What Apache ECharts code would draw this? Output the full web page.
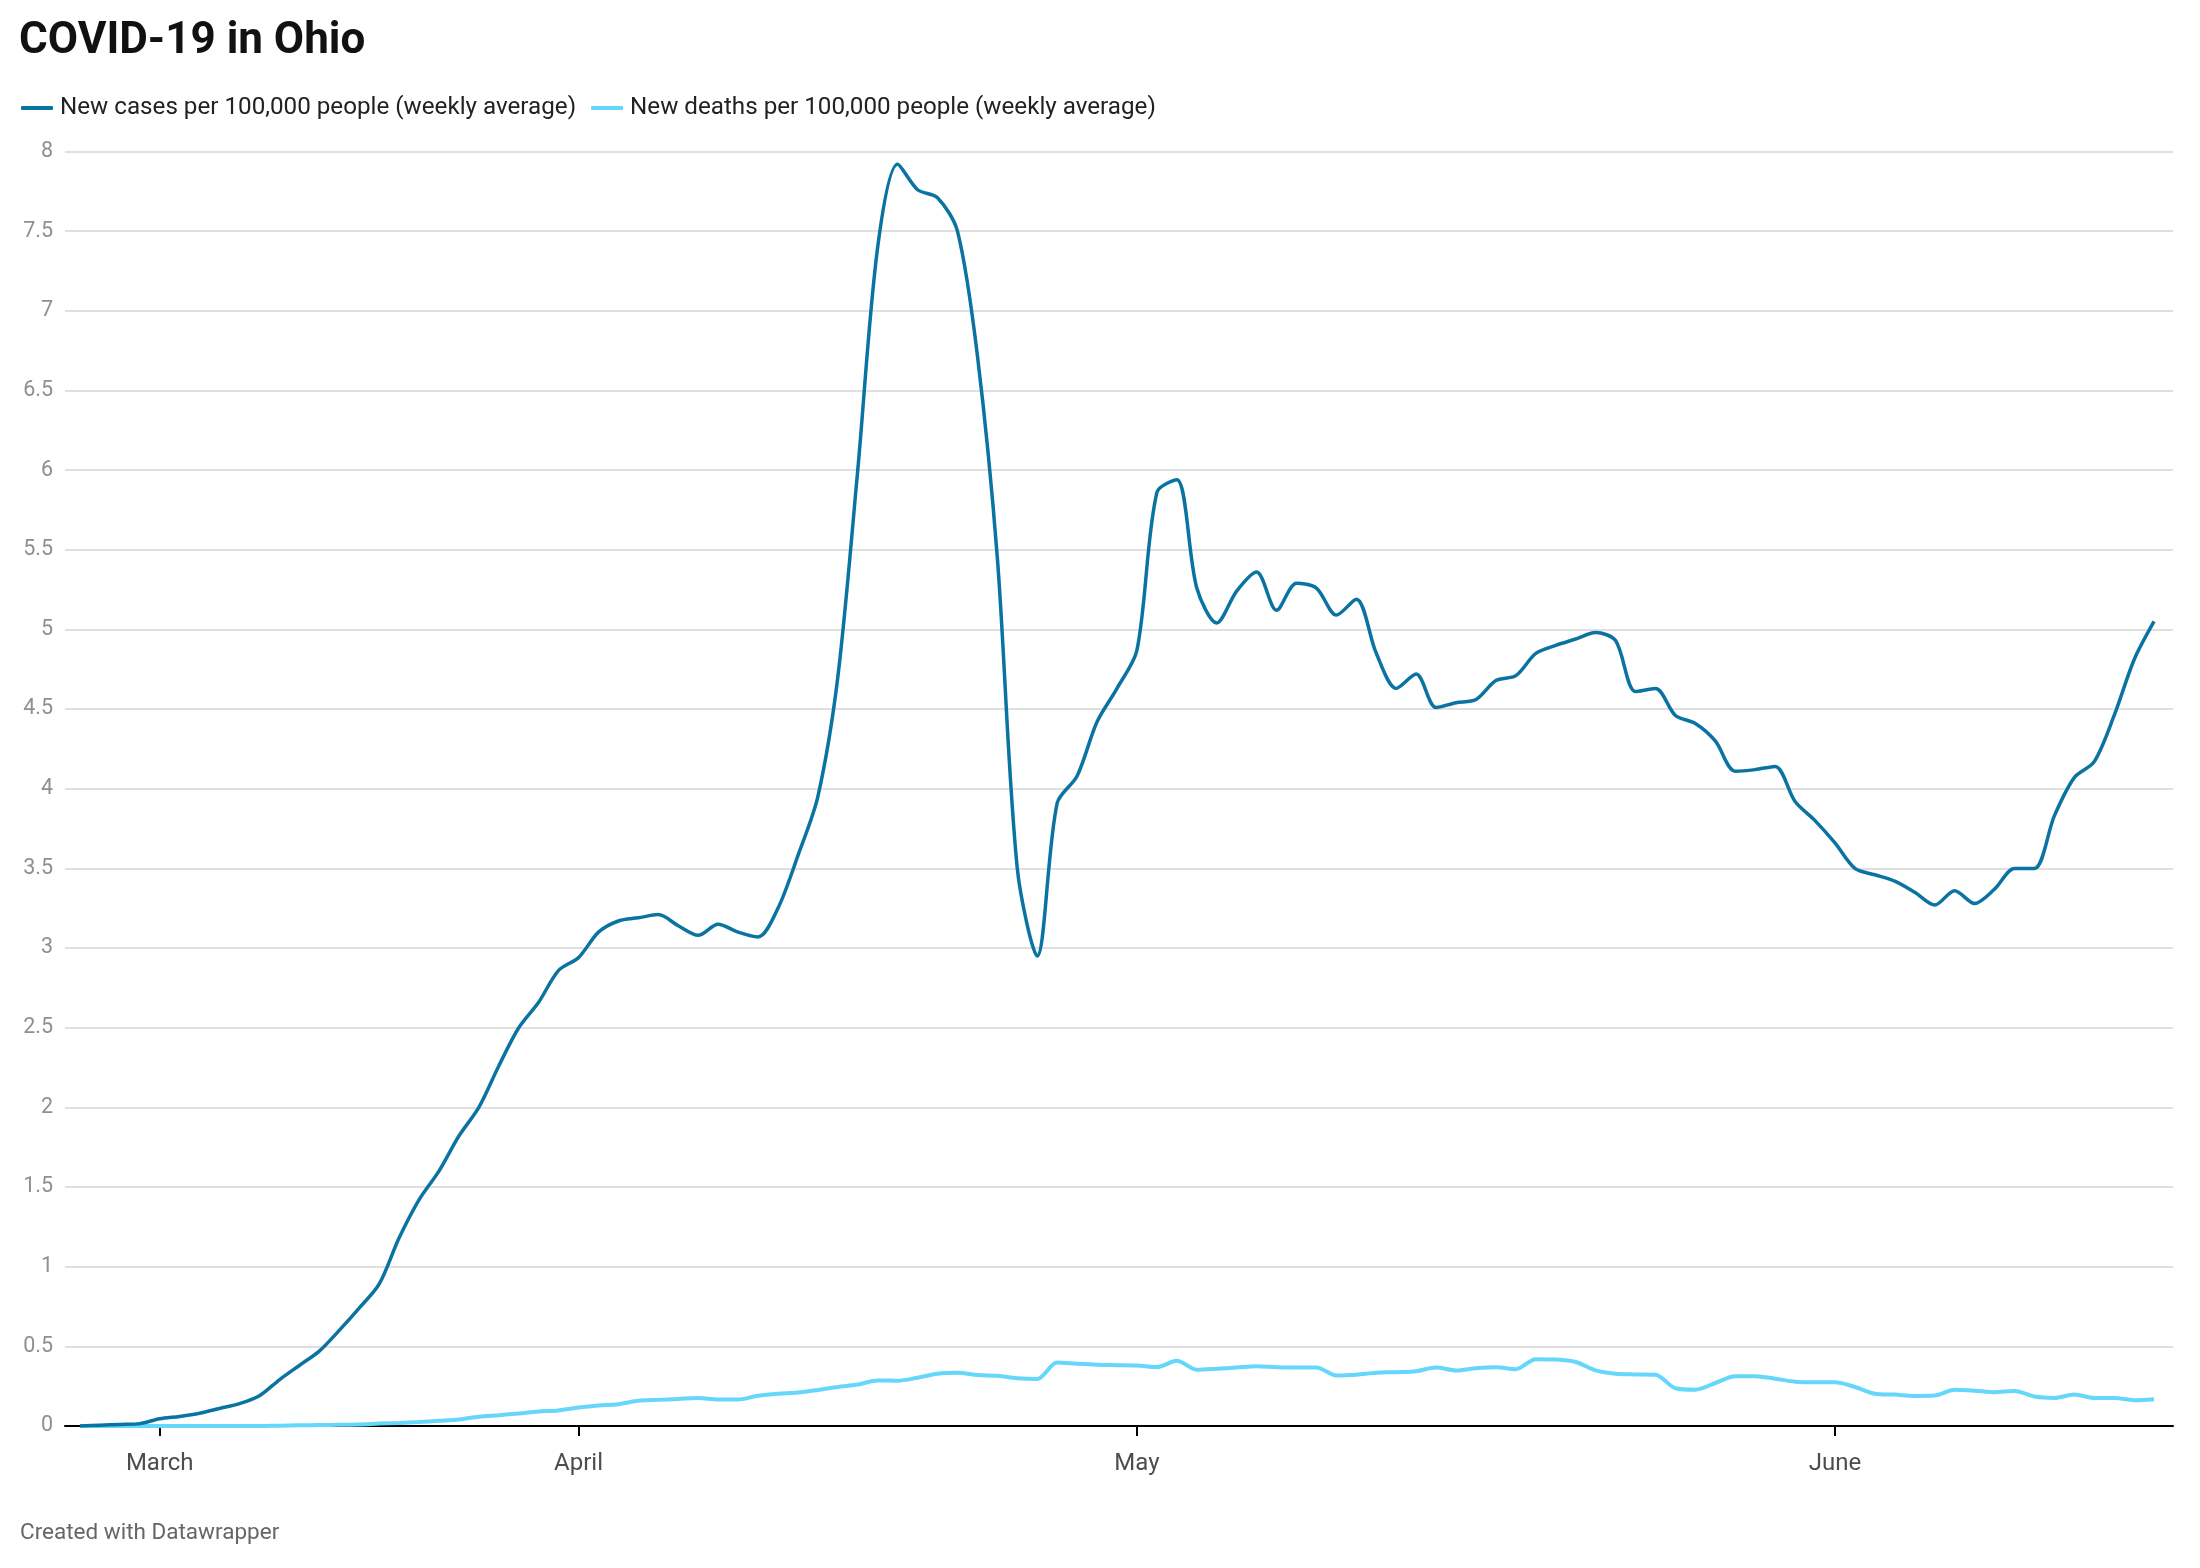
<!DOCTYPE html>
<html>
<head>
<meta charset="utf-8">
<title>COVID-19 in Ohio</title>
<script src="https://cdn.jsdelivr.net/npm/echarts@6/dist/echarts.min.js"></script>
<style>
  html, body { margin: 0; padding: 0; background: #fff; }
  #chart { width: 2200px; height: 1568px; }
</style>
</head>
<body>
<div id="chart"></div>
<script>
// day index 0..104, one point per day
const cases = [
  0.0, 0.005, 0.01, 0.015, 0.045, 0.06, 0.08, 0.11, 0.14, 0.19,
  0.29, 0.38, 0.47, 0.6, 0.74, 0.89, 1.18, 1.42, 1.6, 1.82,
  2.0, 2.26, 2.5, 2.66, 2.86, 2.94, 3.1, 3.17, 3.19, 3.21,
  3.14, 3.08, 3.15, 3.1, 3.07, 3.25, 3.58, 3.95, 4.7, 6.0,
  7.4, 7.92, 7.76, 7.71, 7.5, 6.72, 5.45, 3.5, 2.95, 3.91,
  4.08, 4.42, 4.63, 4.87, 5.86, 5.94, 5.26, 5.04, 5.24, 5.36,
  5.12, 5.29, 5.26, 5.09, 5.19, 4.85, 4.63, 4.72, 4.51, 4.54,
  4.56, 4.68, 4.71, 4.85, 4.9, 4.94, 4.98, 4.93, 4.61, 4.63,
  4.46, 4.41, 4.3, 4.11, 4.12, 4.14, 3.92, 3.8, 3.66, 3.5,
  3.46, 3.42, 3.35, 3.27, 3.36, 3.28, 3.37, 3.5, 3.5, 3.83,
  4.07, 4.17, 4.46, 4.81, 5.05
];
const deaths = [
  0, 0, 0, 0, 0, 0, 0, 0, 0, 0,
  0.002, 0.004, 0.006, 0.008, 0.01, 0.015, 0.019, 0.025, 0.033, 0.041,
  0.058, 0.068, 0.079, 0.091, 0.098, 0.116, 0.129, 0.137, 0.158, 0.164,
  0.17, 0.176, 0.166, 0.166, 0.19, 0.203, 0.21, 0.226, 0.245, 0.26,
  0.286, 0.284, 0.303, 0.328, 0.334, 0.32, 0.315, 0.3, 0.295, 0.398,
  0.39, 0.384, 0.382, 0.38, 0.37, 0.41, 0.353, 0.359, 0.367, 0.375,
  0.369, 0.367, 0.367, 0.317, 0.322, 0.334, 0.338, 0.344, 0.367, 0.349,
  0.363, 0.369, 0.357, 0.419, 0.417, 0.402, 0.349, 0.328, 0.324, 0.322,
  0.237, 0.228, 0.27, 0.313, 0.313, 0.297, 0.278, 0.274, 0.274, 0.245,
  0.203, 0.197, 0.189, 0.191, 0.228, 0.222, 0.212, 0.22, 0.185, 0.176,
  0.197, 0.176, 0.176, 0.162, 0.168
];
const monthTicks = [4, 25, 53, 88];
const monthLabels = ['March', 'April', 'May', 'June'];
const seriesNames = [
  'New cases per 100,000 people (weekly average)',
  'New deaths per 100,000 people (weekly average)'
];

const chart = echarts.init(document.getElementById('chart'));

const toPoints = (arr) => arr.map((v, i) => [i, v]);

const option = {
  animation: false,
  textStyle: { fontFamily: 'Roboto' },
  title: [
    {
      text: 'COVID-19 in Ohio',
      left: 14,
      top: 15,
      textStyle: { fontSize: 44, fontWeight: 'bold', color: '#111', fontFamily: 'Roboto' }
    },
    {
      text: 'Created with Datawrapper',
      left: 15,
      top: 1517,
      textStyle: { fontSize: 22.5, fontWeight: 'normal', color: '#666', fontFamily: 'Roboto' }
    }
  ],
  legend: {
    data: seriesNames,
    left: 16,
    top: 91,
    icon: 'roundRect',
    itemWidth: 32,
    itemHeight: 4,
    itemGap: 15,
    textStyle: { fontSize: 24.2, color: '#222', padding: [0, 0, 0, 2] }
  },
  grid: {
    left: 65,
    right: 27,
    top: 151.5,
    bottom: 142,
    containLabel: false
  },
  xAxis: {
    type: 'value',
    min: -0.75,
    max: 104.95,
    splitLine: { show: false },
    axisLine: { show: true, lineStyle: { color: '#000', width: 2 } },
    axisTick: {
      show: true,
      customValues: monthTicks,
      length: 10,
      lineStyle: { color: '#000', width: 2 }
    },
    axisLabel: {
      customValues: monthTicks,
      formatter: (v) => monthLabels[monthTicks.indexOf(Math.round(v))] || '',
      fontSize: 24,
      color: '#4d4d4d',
      margin: 26
    }
  },
  yAxis: {
    type: 'value',
    min: 0,
    max: 8,
    interval: 0.5,
    axisLine: { show: false },
    axisTick: { show: false },
    axisLabel: { fontSize: 21.5, color: '#8f8f8f', margin: 12 },
    splitLine: { lineStyle: { color: '#e0e0e0', width: 2 } }
  },
  series: [
    {
      name: seriesNames[1],
      type: 'line',
      data: toPoints(deaths),
      smooth: 0.3,
      showSymbol: false,
      z: 2,
      itemStyle: { color: '#64d7fa' },
      lineStyle: { color: '#64d7fa', width: 4 }
    },
    {
      name: seriesNames[0],
      type: 'line',
      data: toPoints(cases),
      smooth: 0.3,
      showSymbol: false,
      z: 3,
      itemStyle: { color: '#0b73a1' },
      lineStyle: { color: '#0b73a1', width: 3.5 }
    }
  ]
};

chart.setOption(option);
</script>
</body>
</html>
